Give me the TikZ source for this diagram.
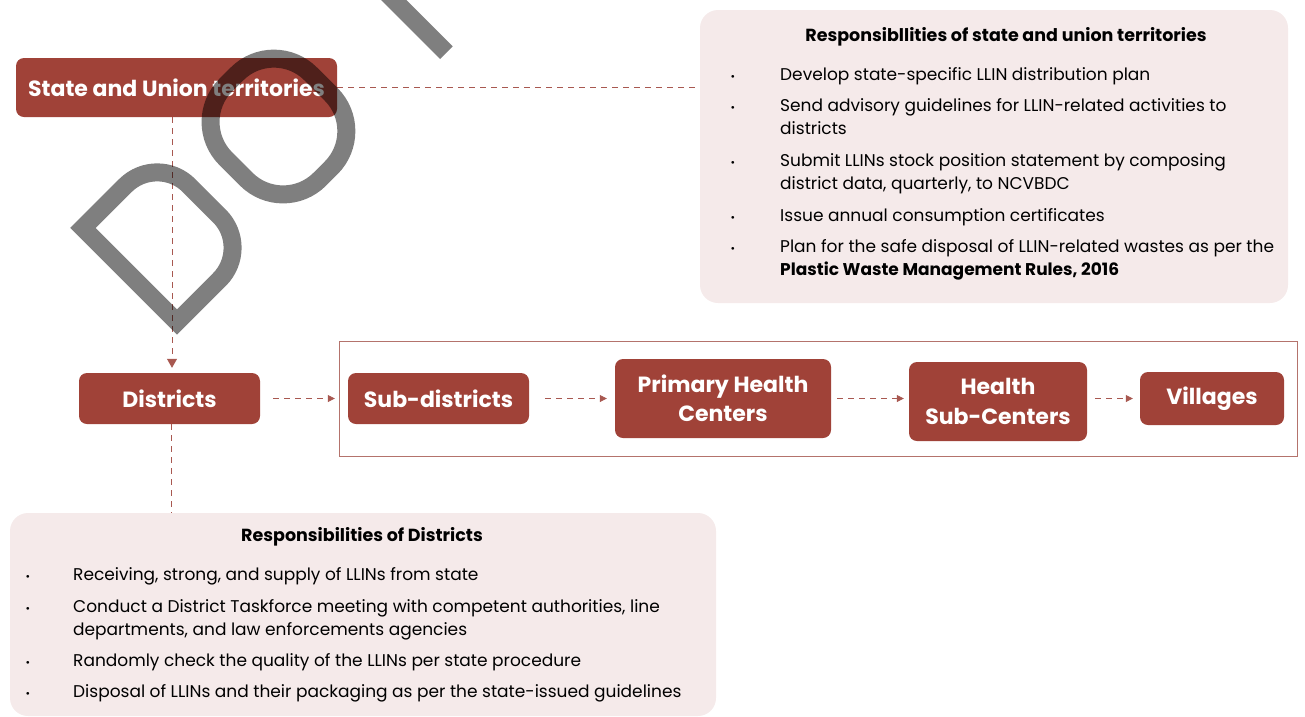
\documentclass[tikz,border=0pt]{standalone}
\usepackage{fontspec}
\setmainfont{Poppins}
\usetikzlibrary{arrows.meta}
\definecolor{boxred}{RGB}{160,66,56}
\definecolor{linered}{RGB}{168,88,80}
\definecolor{palebox}{RGB}{245,234,234}
\definecolor{framered}{RGB}{180,115,108}
\begin{document}
\begin{tikzpicture}[x=1pt,y=-1pt,
  level/.style={fill=boxred,text=white,rounded corners=8pt,align=center,inner sep=0pt,
    font=\bfseries\fontsize{22}{29.5}\selectfont},
  resp/.style={fill=palebox,rounded corners=18pt,inner sep=0pt},
  flowline/.style={draw=linered,dash pattern=on 6pt off 5pt,line width=0.8pt},
  flowarrow/.style={flowline,-{Triangle[length=7pt,width=7pt]}},
  item/.style={anchor=base west,inner sep=0pt,align=left,font=\fontsize{17}{23}\selectfont},
  dot/.style={anchor=base,inner sep=0pt,font=\fontsize{11}{14}\selectfont},
  head/.style={anchor=base,inner sep=0pt,font=\bfseries\fontsize{17.5}{20}\selectfont}]
\useasboundingbox (0,0) rectangle (1305,716);

% responsibility boxes
\node[resp,minimum width=588pt,minimum height=293pt](SR) at (994,156.5){};
\node[resp,minimum width=706pt,minimum height=203pt](DR) at (363,614.5){};

% frame round the lower levels
\draw[framered,line width=0.9pt] (339,341) rectangle (1297,456);

% levels
\node[level,minimum width=321pt,minimum height=59pt](S) at (176.5,87.5){State and Union territories};
\node[level,minimum width=181pt,minimum height=51pt](D) at (169.5,398.5){Districts};
\node[level,minimum width=181pt,minimum height=51pt](SD) at (438.5,398.5){Sub-districts};
\node[level,minimum width=216pt,minimum height=79pt](PHC) at (723,398.5){Primary Health\\Centers};
\node[level,minimum width=178pt,minimum height=79pt](HSC) at (998,401.5){Health\\Sub-Centers};
\node[level,minimum width=144pt,minimum height=53pt](V) at (1212,398.5){Villages};

% connectors
\draw[flowline] (S.east) -- (S.east -| SR.west);
\draw[flowarrow,-{Triangle[length=9pt,width=10pt]},shorten >=5pt] ([xshift=-4.5pt]S.south) -- ([xshift=2.5pt]D.north);
\draw[flowline] ([xshift=1.5pt]D.south) -- ([xshift=1.5pt]D.south |- DR.north);
\draw[flowarrow,shorten <=13pt,shorten >=13pt] (D.east) -- (D.east -| SD.west);
\draw[flowarrow,shorten <=16pt,shorten >=8pt] (SD.east) -- (SD.east -| PHC.west);
\draw[flowarrow,shorten <=6pt,shorten >=5pt] (SD.east -| PHC.east) -- (SD.east -| HSC.west);
\draw[flowarrow,shorten <=8pt,shorten >=7pt] (SD.east -| HSC.east) -- (SD.east -| V.west);

% state and union territories
\node[head](SRt) at (1006,41){Responsibllities of state and union territories};
\foreach \y in {80,111,166,221,252} \node[dot] at (733,\y){•};
\node[item](SR1) at (780,80){Develop state-specific LLIN distribution plan};
\node[item](SR2) at (780,134){Send advisory guidelines for LLIN-related activities to\\districts};
\node[item](SR3) at (780,189){Submit LLINs stock position statement by composing\\district data, quarterly, to NCVBDC};
\node[item](SR4) at (780,221){Issue annual consumption certificates};
\node[item](SR5) at (780,275){Plan for the safe disposal of LLIN-related wastes as per the\\\textbf{Plastic Waste Management Rules, 2016}};

% districts
\node[head](DRt) at (362,541){Responsibilities of Districts};
\foreach \y in {580,612,666,697} \node[dot] at (28,\y){•};
\node[item](DR1) at (73,580){Receiving, strong, and supply of LLINs from state};
\node[item](DR2) at (73,635){Conduct a District Taskforce meeting with competent authorities, line\\departments, and law enforcements agencies};
\node[item](DR3) at (73,666){Randomly check the quality of the LLINs per state procedure};
\node[item](DR4) at (73,697){Disposal of LLINs and their packaging as per the state-issued guidelines};

% watermark
\begin{scope}[shift={(177pt,-322pt)},x={(0.707pt,0.707pt)},y={(-0.707pt,0.707pt)},
  draw=black,draw opacity=0.5,line width=18pt]
\draw (0,0) -- (0,133) -- (60,133) arc[start angle=90,end angle=0,radius=45]
  -- (105,45) arc[start angle=0,end angle=-90,radius=45] -- cycle;
\draw[rounded corners=52pt] (150,0) -- (270,0) -- (270,133) -- (150,133) -- cycle;
\draw (381,0) -- (381,133) -- (491,0) -- (491,133);
\end{scope}
\end{tikzpicture}
\end{document}
